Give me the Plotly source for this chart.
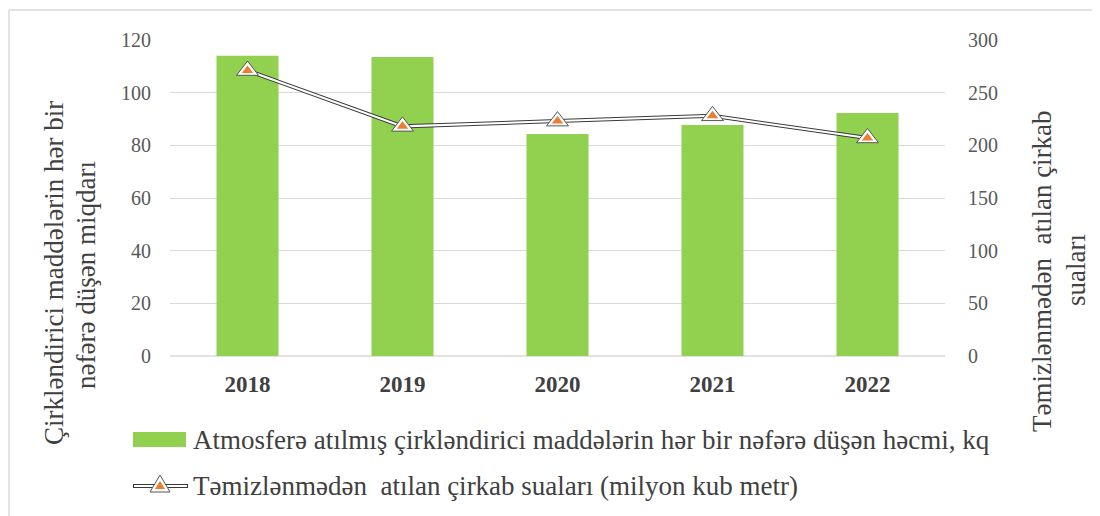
import plotly.graph_objects as go

years = ["2018", "2019", "2020", "2021", "2022"]
bar_values = [114, 113.5, 84.3, 87.7, 92.3]
line_values = [271, 218, 223, 228, 207]
left_ticks = [0, 20, 40, 60, 80, 100, 120]
right_ticks = [0, 50, 100, 150, 200, 250, 300]

bar_name = "Atmosferə atılmış çirkləndirici maddələrin hər bir nəfərə düşən həcmi, kq"
line_name = "Təmizlənmədən  atılan çirkab suaları (milyon kub metr)"
left_title_1 = "Çirkləndirici maddələrin hər bir"
left_title_2 = "nəfərə düşən miqdarı"
right_title_1 = "Təmizlənmədən  atılan çirkab"
right_title_2 = "suaları"

OFF = 8  # page body margin
W, H = 1100 - OFF, 516 - OFF
L, R, T, B = 170 - OFF, 945 - OFF, 40 - OFF, 356 - OFF
FONT = "Liberation Serif"
GREEN = "#92D050"
ORANGE = "#ED7D31"
TEXT = "#404040"


def px(x):
    return (x - OFF - L) / (R - L)


def py(y):
    return (B - (y - OFF)) / (B - T)


fig = go.Figure()
fig.add_trace(go.Bar(x=years, y=bar_values, marker=dict(color=GREEN, line=dict(width=0)),
                     width=0.4, name=bar_name, showlegend=False, yaxis="y"))
fig.add_trace(go.Scatter(x=years, y=line_values, mode="lines", yaxis="y2",
                         line=dict(color="#3a3a3a", width=4), showlegend=False, hoverinfo="skip"))
fig.add_trace(go.Scatter(x=years, y=line_values, mode="lines", yaxis="y2",
                         line=dict(color="white", width=2), showlegend=False, hoverinfo="skip"))
fig.add_trace(go.Scatter(x=years, y=line_values, mode="markers", yaxis="y2",
                         marker=dict(symbol="triangle-up", size=19, color="white",
                                     line=dict(color="#555555", width=1)),
                         showlegend=False, hoverinfo="skip"))
fig.add_trace(go.Scatter(x=years, y=line_values, mode="markers", yaxis="y2", name=line_name,
                         marker=dict(symbol="triangle-up", size=10, color=ORANGE,
                                     line=dict(width=0)),
                         showlegend=False))

tickfont = dict(family=FONT, size=20, color="#595959")
fig.update_layout(
    width=W, height=H,
    margin=dict(l=L, r=W - R, t=T, b=H - B),
    paper_bgcolor="white", plot_bgcolor="white",
    font=dict(family=FONT),
    xaxis=dict(type="category", showgrid=False, showline=False, zeroline=False,
               ticks="", tickfont=dict(family=FONT, size=23, color=TEXT, weight="bold"),
               ticklabelstandoff=12),
    yaxis=dict(range=[0, 120], tickvals=left_ticks, showgrid=True, gridcolor="#d9d9d9",
               gridwidth=1, zeroline=False, showline=False, ticks="", tickfont=tickfont,
               ticklabelstandoff=18),
    yaxis2=dict(range=[0, 300], tickvals=right_ticks, overlaying="y", side="right",
                showgrid=False, zeroline=False, showline=False, ticks="", tickfont=tickfont,
                ticklabelstandoff=22),
    showlegend=False,
)

fig.add_shape(type="line", xref="paper", yref="paper", x0=0, x1=1, y0=0, y1=0,
              line=dict(color="#d9d9d9", width=1.5), layer="below")

# outer border (top and left visible)
fig.add_shape(type="line", xref="paper", yref="paper", x0=px(9), x1=px(1099), y0=py(10), y1=py(10),
              line=dict(color="#d9d9d9", width=1.5))
fig.add_shape(type="line", xref="paper", yref="paper", x0=px(9), x1=px(9), y0=py(10), y1=py(516),
              line=dict(color="#d9d9d9", width=1.5))


# axis titles
def vtext(txt, x, y):
    fig.add_annotation(text=txt, xref="paper", yref="paper", x=px(x), y=py(y),
                       textangle=-90, showarrow=False, xanchor="center", yanchor="middle",
                       font=dict(family=FONT, size=27, color=TEXT))


vtext(left_title_1, 54, 273)
vtext(left_title_2, 86, 275)
vtext(right_title_1, 1042, 271)
vtext(right_title_2, 1076, 270)

# manual legend
fig.add_shape(type="rect", xref="paper", yref="paper", x0=px(133), x1=px(186), y0=py(447), y1=py(432),
              fillcolor=GREEN, line=dict(width=0))
fig.add_annotation(text=bar_name, xref="paper", yref="paper", x=px(191), y=py(440),
                   showarrow=False, xanchor="left", yanchor="middle",
                   font=dict(family=FONT, size=27, color=TEXT))
fig.add_shape(type="line", xref="paper", yref="paper", x0=px(133), x1=px(188), y0=py(486), y1=py(486),
              line=dict(color="#3a3a3a", width=4))
fig.add_shape(type="line", xref="paper", yref="paper", x0=px(134), x1=px(187), y0=py(486), y1=py(486),
              line=dict(color="white", width=2))
cx, cy = 160, 485
fig.add_shape(type="path", xref="paper", yref="paper",
              path=f"M {px(cx-10)} {py(cy+7)} L {px(cx+10)} {py(cy+7)} L {px(cx)} {py(cy-10)} Z",
              fillcolor="white", line=dict(color="#555555", width=1))
fig.add_shape(type="path", xref="paper", yref="paper",
              path=f"M {px(cx-5)} {py(cy+4)} L {px(cx+5)} {py(cy+4)} L {px(cx)} {py(cy-4)} Z",
              fillcolor=ORANGE, line=dict(width=0))
fig.add_annotation(text=line_name, xref="paper", yref="paper", x=px(191), y=py(486),
                   showarrow=False, xanchor="left", yanchor="middle",
                   font=dict(family=FONT, size=27, color=TEXT))

fig.write_html("out.html")
